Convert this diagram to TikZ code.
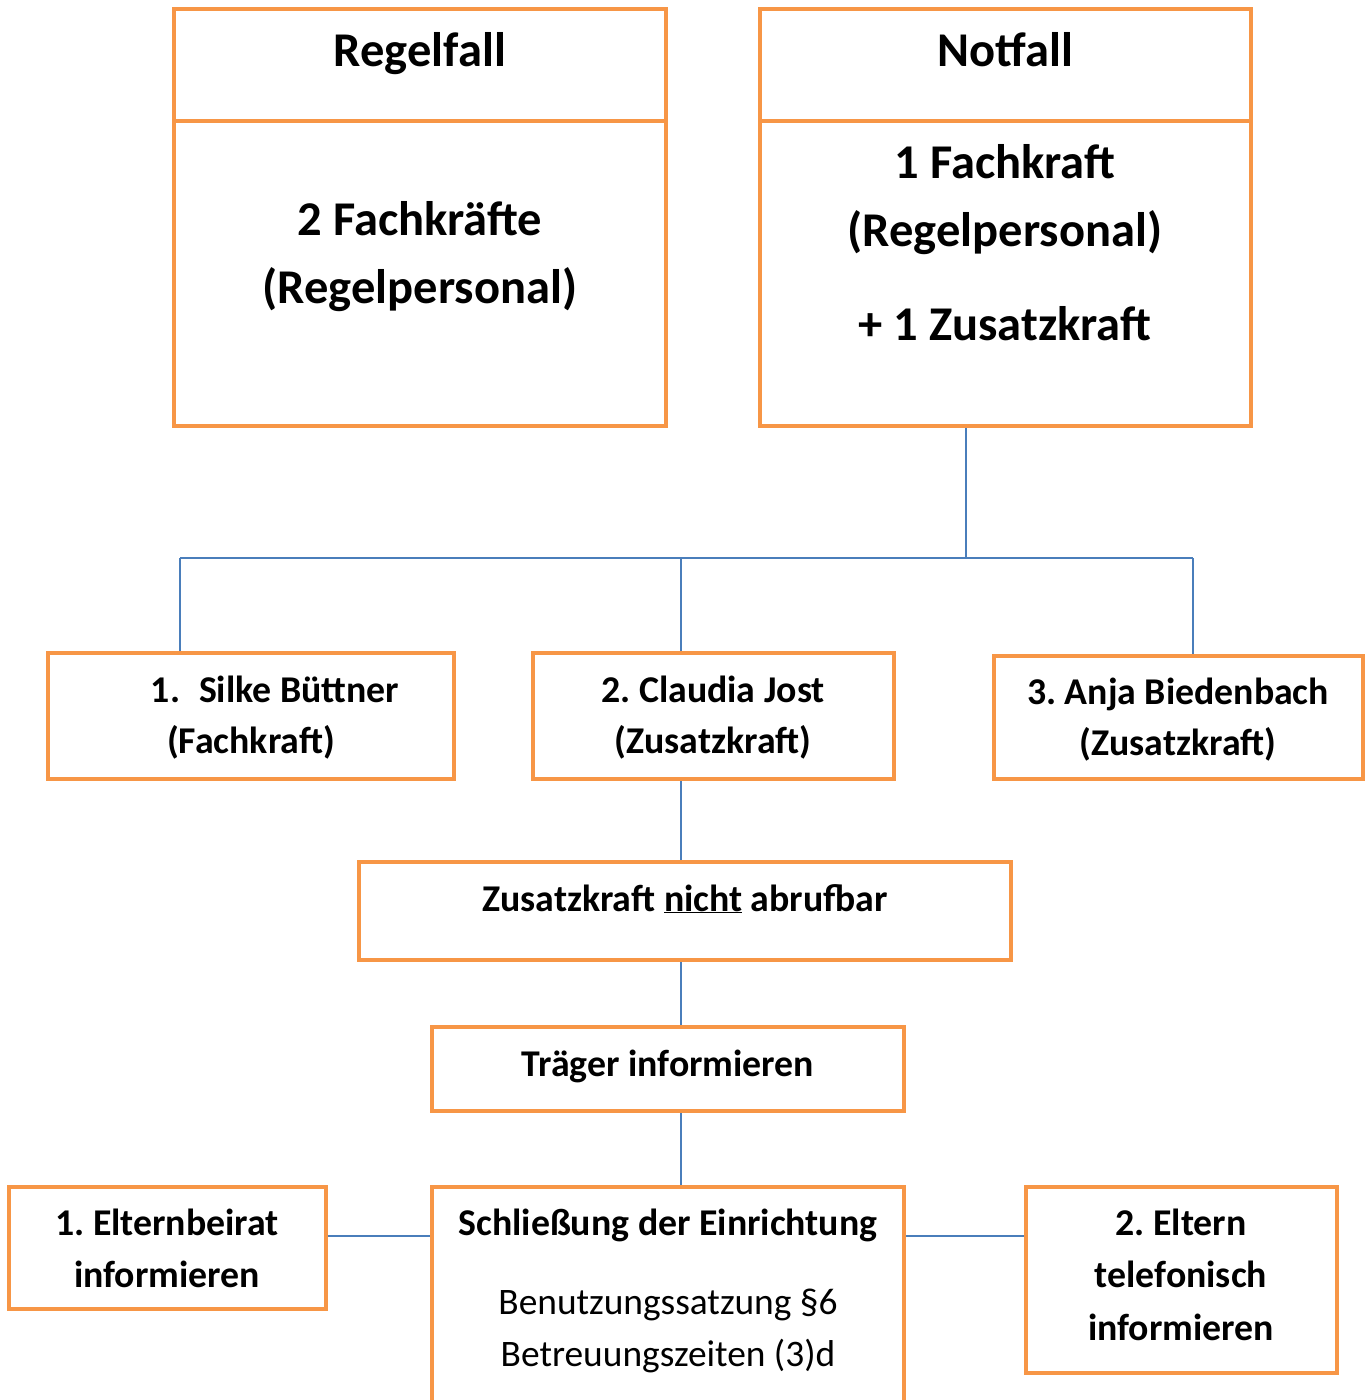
\documentclass[tikz,border=0pt]{standalone}
\usepackage{fontspec}
\setmainfont{Carlito}
\definecolor{boxorange}{HTML}{F79646}
\definecolor{linkblue}{HTML}{4A7EBB}
\begin{document}
\begin{tikzpicture}[x=1pt,y=-1pt,
  box/.style={draw=boxorange,line width=4pt,rectangle,inner sep=0pt,fill=none},
  link/.style={draw=linkblue,line width=1.6pt},
  bigtxt/.style={anchor=base,inner sep=0pt,font=\fontsize{48.5}{58}\selectfont\bfseries},
  txt/.style={anchor=base,inner sep=0pt,font=\fontsize{37.8}{45}\selectfont\bfseries},
  rtxt/.style={anchor=base,inner sep=0pt,font=\fontsize{37.4}{45}\selectfont}]
\clip (0,0) rectangle (1371,1400);
% coordinates for connector junctions
\coordinate (j0) at (966,558);
\coordinate (jl) at (180,558);
\coordinate (jm) at (681,558);
\coordinate (jr) at (1193,558);
\coordinate (h) at (0,1236);
% boxes
\node[box,minimum width=492pt,minimum height=417pt] (reg) at (420,217.5) {};
\node[box,minimum width=491pt,minimum height=417pt] (nf) at (1005.5,217.5) {};
\node[box,minimum width=406pt,minimum height=126pt] (b1) at (251,716) {};
\node[box,minimum width=361pt,minimum height=126pt] (b2) at (713.5,716) {};
\node[box,minimum width=369pt,minimum height=123pt] (b3) at (1178.5,717.5) {};
\node[box,minimum width=652pt,minimum height=98pt] (zk) at (685,911) {};
\node[box,minimum width=472pt,minimum height=84pt] (tr) at (668,1069) {};
\node[box,minimum width=472pt,minimum height=233pt] (sc) at (668,1303.5) {};
\node[box,minimum width=317pt,minimum height=122pt] (eb) at (167.5,1248) {};
\node[box,minimum width=311pt,minimum height=186pt] (et) at (1181.5,1280) {};
% dividers in top boxes
\draw[draw=boxorange,line width=4pt] (reg.west |- 0,121) -- (reg.east |- 0,121);
\draw[draw=boxorange,line width=4pt] (nf.west |- 0,121) -- (nf.east |- 0,121);
% connectors
\draw[link] (nf.south -| j0) -- (j0);
\draw[link] (jl) -- (jr);
\draw[link] (jl) -- (jl |- b1.north);
\draw[link] (jm) -- (jm |- b2.north);
\draw[link] (jr) -- (jr |- b3.north);
\draw[link] (b2.south -| jm) -- (zk.north -| jm);
\draw[link] (zk.south -| jm) -- (tr.north -| jm);
\draw[link] (tr.south -| jm) -- (sc.north -| jm);
\draw[link] (eb.east |- h) -- (sc.west |- h);
\draw[link] (sc.east |- h) -- (et.west |- h);
% texts
\node[bigtxt] (t1) at (420,66) {Regelfall};
\node[bigtxt] (t2) at (420,235) {2 Fachkräfte};
\node[bigtxt] (t3) at (420,303) {(Regelpersonal)};
\node[bigtxt] (t4) at (1005,66) {Notfall};
\node[bigtxt] (t5) at (1005,178) {1 Fachkraft};
\node[bigtxt] (t6) at (1005,246) {(Regelpersonal)};
\node[bigtxt] (t7) at (1005,340) {+ 1 Zusatzkraft};
\node[txt] (t8) at (275,702) {1.\hspace{0.5em}Silke Büttner};
\node[txt] (t9) at (251,753) {(Fachkraft)};
\node[txt] (t10) at (713,702) {2.~Claudia Jost};
\node[txt] (t11) at (713,753) {(Zusatzkraft)};
\node[txt] (t12) at (1178,704) {3.~Anja Biedenbach};
\node[txt] (t13) at (1178,755) {(Zusatzkraft)};
\node[txt] (t14) at (685,911) {Zusatzkraft \underline{nicht} abrufbar};
\node[txt] (t15) at (668,1076) {Träger informieren};
\node[txt] (t16) at (668,1235) {Schließung der Einrichtung};
\node[rtxt] (t17) at (668,1314) {Benutzungssatzung §6};
\node[rtxt] (t18) at (668,1366) {Betreuungszeiten (3)d};
\node[txt] (t19) at (167,1235) {1.~Elternbeirat};
\node[txt] (t20) at (167,1287) {informieren};
\node[txt] (t21) at (1181,1235) {2.~Eltern};
\node[txt] (t22) at (1181,1287) {telefonisch};
\node[txt] (t23) at (1181,1340) {informieren};
\end{tikzpicture}
\end{document}
